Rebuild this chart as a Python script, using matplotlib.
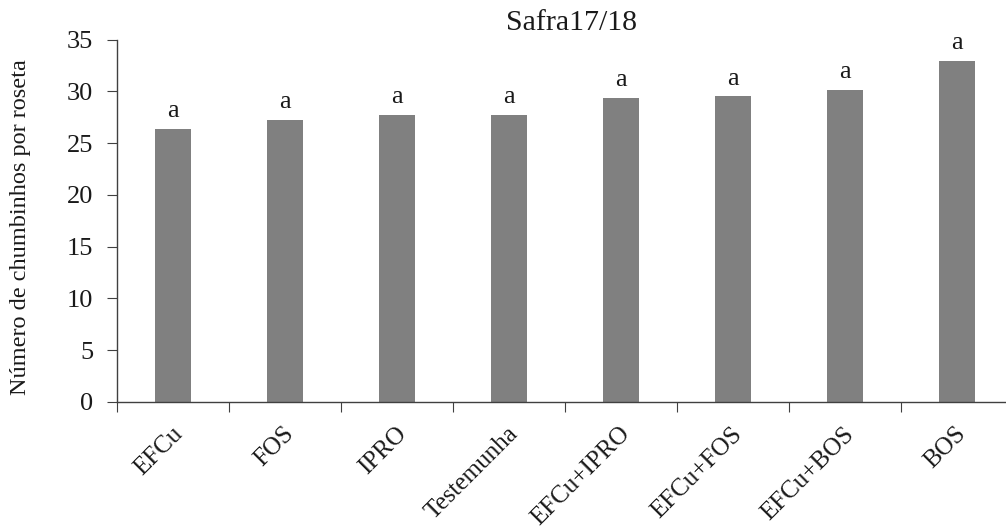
import matplotlib
matplotlib.use("Agg")
import matplotlib.pyplot as plt
import matplotlib.transforms as mtransforms
import numpy as np

tratamentos = ["EFCu", "FOS", "IPRO", "Testemunha", "EFCu+IPRO", "EFCu+FOS", "EFCu+BOS", "BOS"]
chumbinhos = [26.4, 27.25, 27.75, 27.75, 29.35, 29.5, 30.15, 32.9]
letras = ["a", "a", "a", "a", "a", "a", "a", "a"]
y_ticks = [0, 5, 10, 15, 20, 25, 30, 35]

plt.rcParams["font.family"] = ["Liberation Serif", "DejaVu Serif"]
W, H = 1006, 529
fig = plt.figure(figsize=(W / 100, H / 100), dpi=100)
ax = fig.add_axes([117 / W, 127 / H, 896 / W, (402 - 39.5) / H])

x = np.arange(len(tratamentos)) + 0.5
ax.bar(x, chumbinhos, width=0.32, color="#808080", zorder=2)
for xi, v, l in zip(x, chumbinhos, letras):
    ax.annotate(l, (xi, v), xytext=(0, 5), textcoords="offset points",
                ha="center", va="bottom", fontsize=19, color="#1a1a1a")

ax.set_xlim(0, len(tratamentos))
ax.set_ylim(0, 35)
ax.set_yticks(y_ticks)
ax.set_yticklabels([str(t) for t in y_ticks], fontsize=19, color="#1a1a1a")

ax.set_xticks(np.arange(len(tratamentos) + 1))
ax.set_xticklabels([])
ax.set_xticks(x, minor=True)
ax.set_xticklabels(tratamentos, minor=True, rotation=45, ha="right",
                   rotation_mode="anchor", fontsize=18, color="#1a1a1a")
ax.tick_params(axis="x", which="minor", length=0, pad=15)
ax.tick_params(axis="x", which="major", length=7, direction="out", color="#404040")
ax.tick_params(axis="y", length=7, direction="out", color="#404040", pad=10)

for s in ["top", "right"]:
    ax.spines[s].set_visible(False)
for s in ["left", "bottom"]:
    ax.spines[s].set_color("#404040")
    ax.spines[s].set_linewidth(1.0)

ax.set_ylabel("Número de chumbinhos por roseta", fontsize=17.5, color="#1a1a1a")
ax.yaxis.set_label_coords((31 - 117) / 896, (402 - 227.5) / 362.5)
fig.text(572 / W, 1 - 23 / H, "Safra17/18", ha="center", va="center", fontsize=21.5, color="#1a1a1a")

# shift category labels so their upper-right end sits beside the bar centre
offset = mtransforms.ScaledTranslation(-2 / 100, 0, fig.dpi_scale_trans)
for lbl in ax.get_xticklabels(minor=True):
    lbl.set_transform(lbl.get_transform() + offset)

fig.savefig("out.png", dpi=100)
